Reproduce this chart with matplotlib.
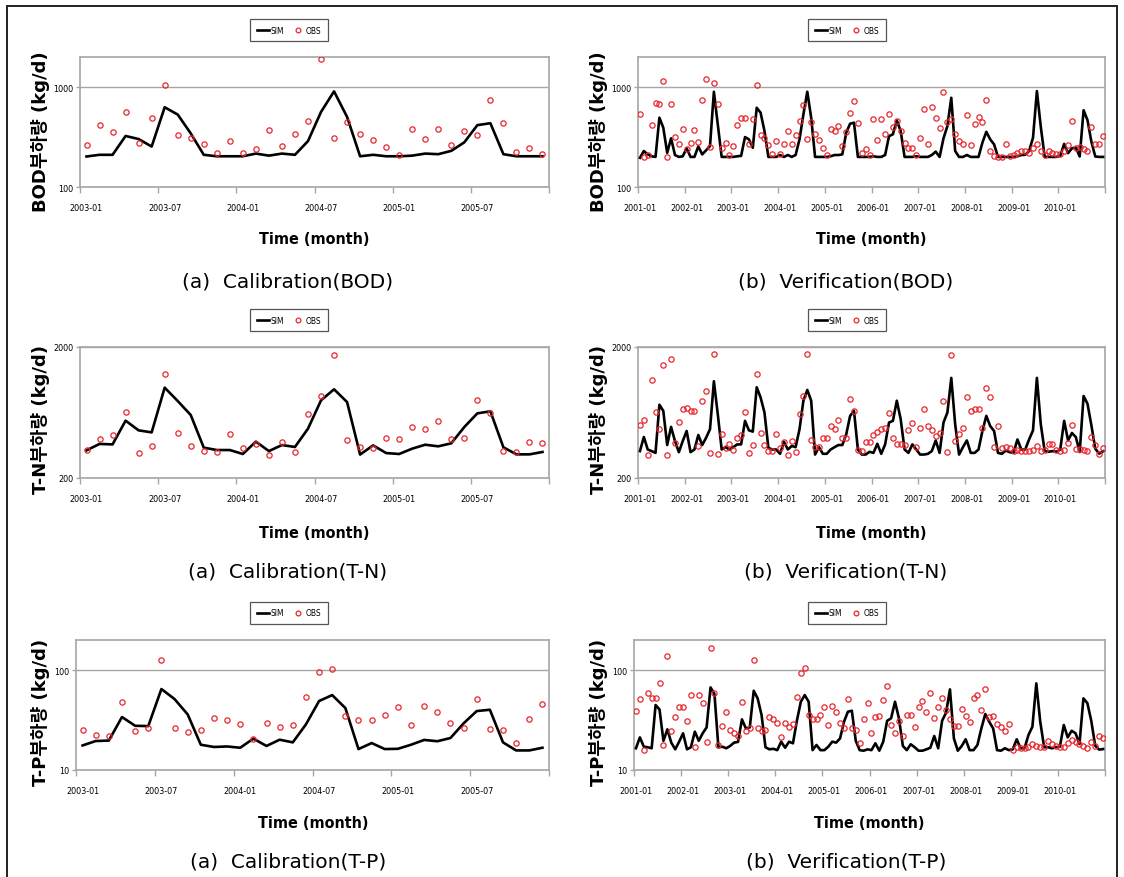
import numpy as np
import matplotlib.pyplot as plt
from matplotlib.ticker import NullLocator, NullFormatter

plt.rcParams['font.family'] = ['DejaVu Sans', 'Noto Sans CJK KR']
plt.rcParams['font.stretch'] = 'condensed'
KR = ['DejaVu Sans', 'Noto Sans CJK KR']

W, H = 1124, 878

# tick labels
calib_ticks = ['2003-01', '2003-07', '2004-01', '2004-07', '2005-01', '2005-07']
verif_ticks = ['2001-01', '2002-01', '2003-01', '2004-01', '2005-01',
               '2006-01', '2007-01', '2008-01', '2009-01', '2010-01']

# calibration, 2003-01 .. 2005-12 (monthly)
bod_cal_sim = [202, 210, 210, 324, 302, 254, 628, 531, 344, 210, 203, 203,
               203, 216, 206, 216, 210, 288, 564, 906, 503, 203, 210, 203,
               203, 206, 216, 213, 230, 280, 416, 435, 213, 203, 203, 203]
bod_cal_obs = [261, 416, 352, 569, 276, 488, 1047, 334, 311, 267, 218, 288,
               218, 240, 368, 255, 339, 459, 1897, 309, 446, 341, 298, 250,
               210, 383, 302, 377, 263, 363, 334, 737, 442, 223, 248, 213]
tn_cal_sim = [325, 364, 361, 548, 462, 446, 979, 774, 605, 341, 327, 327,
              305, 379, 321, 357, 345, 476, 783, 951, 760, 302, 355, 310,
              305, 335, 359, 349, 368, 490, 623, 646, 343, 303, 303, 316]
tn_cal_obs = [325, 399, 428, 634, 310, 351, 1237, 443, 351, 321, 318, 431,
              339, 366, 298, 379, 314, 612, 845, 1727, 388, 347, 337, 404,
              399, 493, 471, 548, 394, 406, 787, 631, 323, 316, 374, 370]
tp_cal_sim = [17.6, 19.5, 19.7, 33.9, 27.7, 27.5, 64.6, 51.3, 36.0, 17.9, 17.0, 17.2,
              16.7, 20.6, 17.4, 20.1, 18.9, 28.6, 49.0, 56.2, 41.7, 16.2, 18.6, 16.2,
              16.3, 17.9, 20.0, 19.4, 20.9, 29.3, 38.9, 40.1, 18.9, 15.7, 15.7, 16.7]
tp_cal_obs = [24.9, 22.6, 21.7, 48.2, 24.5, 26.5, 126, 26.1, 24.2, 24.9, 33.4, 31.9,
              29.1, 20.3, 29.7, 27.1, 28.4, 54.1, 94.8, 103, 34.7, 31.6, 31.6, 35.2,
              42.3, 28.0, 43.7, 38.3, 29.3, 26.3, 50.9, 25.9, 24.9, 18.5, 32.1, 46.1]

# verification, 2001-01 .. 2010-12 (monthly)
bod_ver_sim = [196, 229, 212, 203, 200, 494, 392, 220, 307, 209,
               200, 203, 244, 200, 200, 255, 212, 233, 257, 898,
               423, 200, 200, 200, 200, 203, 205, 316, 300, 247,
               621, 554, 363, 200, 200, 200, 209, 200, 209, 200,
               209, 300, 533, 898, 494, 200, 200, 200, 200, 203,
               209, 209, 212, 350, 430, 440, 200, 200, 200, 200,
               203, 200, 200, 209, 323, 337, 464, 363, 200, 200,
               200, 203, 200, 200, 200, 209, 226, 200, 307, 407,
               782, 229, 200, 200, 209, 200, 200, 200, 278, 357,
               300, 267, 200, 200, 200, 200, 200, 203, 209, 210,
               229, 311, 912, 400, 200, 200, 200, 200, 205, 270,
               218, 244, 248, 202, 586, 467, 284, 202, 200, 200]
bod_ver_obs = [541, 200, 209, 417, 687, 671, 1148, 200, 671, 316,
               271, 380, 238, 278, 369, 284, 736, 1194, 251, 1105,
               671, 247, 273, 209, 257, 417, 486, 486, 271, 479,
               1047, 331, 307, 263, 215, 288, 215, 267, 363, 267,
               331, 457, 661, 304, 447, 341, 293, 247, 209, 377,
               363, 407, 257, 355, 554, 724, 440, 220, 242, 209,
               482, 293, 482, 341, 533, 398, 457, 363, 278, 247,
               247, 209, 311, 603, 267, 631, 494, 392, 891, 450,
               482, 336, 288, 267, 525, 263, 423, 501, 450, 736,
               229, 204, 200, 200, 267, 203, 209, 220, 229, 229,
               220, 244, 271, 229, 209, 229, 220, 212, 212, 229,
               265, 459, 244, 249, 240, 230, 395, 270, 270, 326]
tn_ver_sim = [321, 411, 330, 321, 311, 725, 651, 357, 491, 383,
              315, 383, 457, 315, 330, 426, 357, 406, 471, 1095,
              614, 330, 344, 330, 344, 361, 361, 546, 462, 452,
              985, 825, 632, 340, 330, 330, 306, 378, 330, 351,
              344, 471, 778, 940, 778, 302, 344, 306, 306, 330,
              344, 357, 357, 430, 596, 651, 330, 302, 302, 317,
              311, 365, 306, 361, 530, 546, 778, 562, 330, 311,
              361, 330, 302, 302, 306, 321, 387, 311, 530, 632,
              1162, 514, 302, 344, 387, 311, 311, 330, 457, 596,
              499, 457, 311, 306, 324, 315, 311, 394, 330, 330,
              394, 462, 1162, 514, 321, 317, 321, 317, 330, 546,
              388, 441, 411, 316, 845, 738, 505, 335, 307, 320]
tn_ver_obs = [508, 552, 299, 1128, 640, 471, 1445, 299, 1627, 372,
              536, 671, 683, 644, 644, 348, 778, 918, 310, 1778,
              306, 431, 336, 365, 328, 406, 426, 640, 311, 355,
              1247, 444, 355, 321, 321, 436, 340, 376, 302, 383,
              315, 621, 849, 1757, 390, 344, 346, 406, 406, 499,
              476, 552, 402, 406, 801, 644, 330, 321, 378, 378,
              426, 452, 471, 485, 632, 402, 361, 361, 357, 462,
              530, 344, 485, 671, 499, 462, 418, 444, 778, 317,
              1726, 383, 431, 485, 835, 644, 671, 671, 485, 968,
              825, 344, 499, 336, 344, 336, 321, 330, 321, 321,
              321, 330, 351, 321, 330, 361, 365, 330, 321, 330,
              372, 505, 335, 331, 325, 320, 411, 355, 307, 339]
tp_ver_sim = [16.5, 21.2, 17.1, 16.9, 16.5, 44.7, 40.4, 19.6, 25.5, 18.8,
              16.1, 19.2, 23.3, 16.1, 16.9, 24.2, 19.6, 23.3, 26.7, 67.1,
              57.5, 16.9, 17.1, 16.5, 17.4, 18.8, 19.1, 32.1, 26.1, 26.7,
              62.1, 52.1, 35.5, 16.9, 16.1, 16.3, 15.8, 19.2, 16.7, 19.2,
              18.5, 31.1, 48.2, 56.2, 48.2, 15.8, 17.8, 15.8, 15.8, 17.1,
              19.2, 18.8, 20.7, 30.4, 38.3, 39.2, 19.6, 15.8, 15.6, 16.1,
              15.8, 18.5, 15.6, 19.2, 31.1, 32.9, 48.2, 32.9, 17.4, 15.8,
              18.1, 16.9, 15.6, 15.6, 16.1, 16.7, 21.9, 16.5, 31.1, 37.4,
              64.1, 20.7, 15.6, 17.4, 20.3, 15.8, 15.8, 17.8, 26.1, 36.3,
              30.4, 26.1, 15.8, 15.6, 16.5, 15.8, 16.1, 20.3, 16.5, 16.5,
              22.4, 27.1, 73.6, 30.4, 16.9, 16.9, 16.5, 16.9, 17.1, 28.2,
              21.2, 24.7, 23.3, 18.2, 52.1, 46.8, 31.1, 17.5, 16.0, 16.2]
tp_ver_obs = [39.2, 50.9, 15.8, 58.4, 52.1, 52.1, 73.6, 17.8, 138, 24.7,
              34.2, 43.0, 42.3, 30.9, 56.2, 16.9, 56.2, 47.1, 19.2, 167,
              59.3, 17.8, 27.5, 37.7, 25.1, 23.6, 21.9, 48.2, 24.5, 26.5,
              126, 26.5, 24.5, 25.1, 33.6, 32.4, 29.3, 21.2, 29.7, 27.1,
              28.8, 54.1, 94.0, 104, 35.5, 32.1, 32.1, 35.5, 42.3, 28.2,
              43.7, 38.3, 29.3, 26.5, 51.3, 26.1, 25.1, 18.8, 32.4, 46.4,
              23.6, 33.6, 34.7, 50.1, 69.7, 28.2, 23.6, 31.1, 21.9, 35.5,
              35.5, 27.1, 43.0, 49.4, 37.7, 59.3, 33.4, 42.3, 52.1, 39.8,
              32.1, 27.5, 27.5, 40.4, 34.7, 30.4, 52.1, 56.2, 39.8, 64.1,
              33.6, 34.7, 28.8, 26.7, 24.7, 28.8, 15.8, 16.9, 16.5, 16.5,
              16.9, 18.2, 17.4, 17.1, 17.1, 19.6, 18.2, 17.4, 17.1, 17.1,
              18.6, 20.0, 18.9, 18.2, 17.5, 16.5, 18.9, 17.5, 22.0, 20.9]

GRAY = '#a6a6a6'
RED = '#e8262e'

fig = plt.figure(figsize=(W / 100, H / 100), dpi=100)

# outer frame
fig.add_artist(plt.Rectangle((7 / W, -0.05), 1110 / W, 1.05 - 7 / H, fill=False,
                             ec='#222222', lw=1.4, transform=fig.transFigure))


def panel(box, sim, obs, ticks, step, ylim, yticks, ylabel, caption, leg, cx, lab_y):
    x0, y0, x1, y1 = box
    ax = fig.add_axes([x0 / W, 1 - y1 / H, (x1 - x0) / W, (y1 - y0) / H])
    n = len(sim)
    x = np.arange(n) + 0.5
    ax.plot(x, sim, color='black', lw=1.9, label='SIM', zorder=3)
    ax.plot(x, obs, ls='none', marker='o', ms=3.8, mfc='none', mec=RED,
            mew=0.9, label='OBS', zorder=4)
    ax.set_yscale('log')
    ax.set_ylim(*ylim)
    ax.set_xlim(0, n)
    ax.yaxis.set_minor_locator(NullLocator())
    ax.yaxis.set_minor_formatter(NullFormatter())
    ax.set_yticks(yticks)
    ax.set_yticklabels([str(t) for t in yticks])
    ax.set_xticks(np.arange(0, n + 1, step))
    ax.set_xticklabels([])
    ax.set_xticks(np.arange(0, n, step) + 0.5, minor=True)
    ax.set_xticklabels(ticks, minor=True)
    ax.tick_params(axis='x', which='major', length=4, color=GRAY, width=1)
    ax.tick_params(axis='x', which='minor', length=0, pad=11.5, labelsize=6.5)
    ax.tick_params(axis='y', length=3, color=GRAY, width=1, labelsize=6.5, pad=2)
    ax.grid(axis='y', which='major', color=GRAY, lw=1)
    for s in ax.spines.values():
        s.set_color(GRAY)
        s.set_linewidth(1.2)
    ax.legend(loc='center', bbox_to_anchor=(leg[0] / W, 1 - leg[1] / H),
              bbox_transform=fig.transFigure, ncol=2, fontsize=6,
              fancybox=False, edgecolor='#555555', framealpha=1,
              handlelength=1.5, handletextpad=0.2, columnspacing=0.9,
              borderpad=0.8, markerscale=0.9)
    ax.get_legend().get_frame().set_linewidth(0.9)
    # axis titles and caption
    fig.text(lab_y[0] / W, 1 - lab_y[1] / H, ylabel, rotation=90, ha='center',
             va='center', fontsize=13, fontweight='bold', family=KR,
             fontstretch='normal')
    fig.text(cx[0] / W, 1 - cx[1] / H, 'Time (month)', ha='center', va='center',
             fontsize=11.5, fontweight='bold')
    fig.text(cx[2] / W, 1 - cx[3] / H, caption, ha='center', va='center',
             fontsize=14.5, fontstretch='normal')
    return ax


# row 1: BOD
panel((80, 58, 549, 188), bod_cal_sim, bod_cal_obs, calib_ticks, 6, (100, 2000),
      [100, 1000], 'BOD부하량 (kg/d)', '(a)  Calibration(BOD)',
      (289, 31), (314, 240, 288, 282), (41, 132))
panel((638, 58, 1105, 188), bod_ver_sim, bod_ver_obs, verif_ticks, 12, (100, 2000),
      [100, 1000], 'BOD부하량 (kg/d)', '(b)  Verification(BOD)',
      (847, 31), (871, 240, 846, 282), (599, 132))
# row 2: T-N
panel((80, 348, 549, 479), tn_cal_sim, tn_cal_obs, calib_ticks, 6, (200, 2000),
      [200, 2000], 'T-N부하량 (kg/d)', '(a)  Calibration(T-N)',
      (289, 321), (314, 533, 288, 572), (41, 420))
panel((638, 348, 1105, 479), tn_ver_sim, tn_ver_obs, verif_ticks, 12, (200, 2000),
      [200, 2000], 'T-N부하량 (kg/d)', '(b)  Verification(T-N)',
      (847, 321), (871, 533, 846, 572), (599, 420))
# row 3: T-P
panel((76, 641, 549, 771), tp_cal_sim, tp_cal_obs, calib_ticks, 6, (10, 200),
      [10, 100], 'T-P부하량 (kg/d)', '(a)  Calibration(T-P)',
      (289, 614), (313, 824, 288, 862), (41, 712))
panel((634, 641, 1105, 771), tp_ver_sim, tp_ver_obs, verif_ticks, 12, (10, 200),
      [10, 100], 'T-P부하량 (kg/d)', '(b)  Verification(T-P)',
      (847, 614), (869, 824, 846, 862), (599, 712))

fig.savefig('out.png', dpi=100)
